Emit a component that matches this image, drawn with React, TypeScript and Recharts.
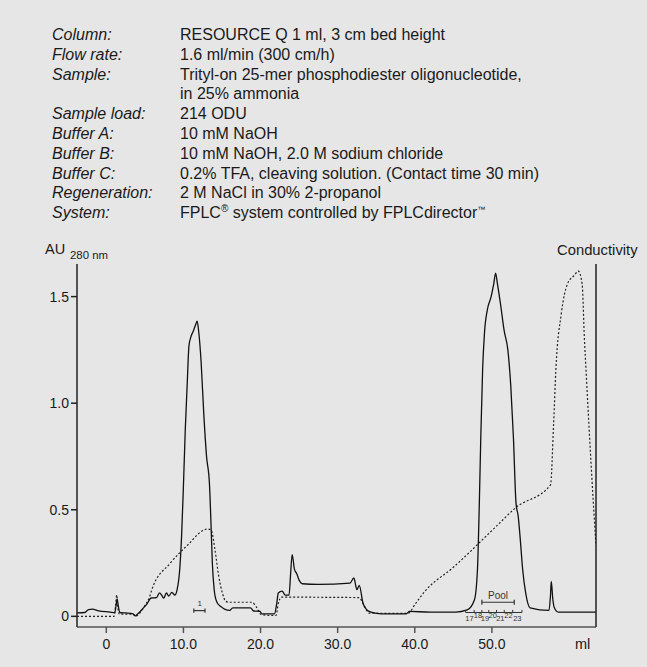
import React from "react";
import { LineChart, Line, XAxis, YAxis, ReferenceLine, ReferenceDot } from "recharts";

// UV trace (A280)
const uvVolume = [-3.8, -2.8, -2.3, -1.8, -1.0, 0.5, 1.1, 1.3, 1.4, 1.55, 1.75, 2.5, 3.4, 3.75, 4.1, 4.7, 5.3, 5.8, 6.5, 6.9, 7.2, 7.45, 7.8, 8.1, 8.5, 8.9, 9.18, 9.52, 9.76, 10.0, 10.24, 10.48, 10.72, 10.96, 11.3, 11.6, 11.78, 11.97, 12.3, 12.64, 13.0, 13.37, 13.6, 13.75, 13.99, 14.3, 14.8, 16.0, 16.4, 18.7, 19.1, 19.9, 20.2, 21.8, 22.1, 22.3, 22.8, 23.2, 23.7, 23.9, 24.1, 24.4, 24.7, 25.0, 25.4, 27.5, 31.6, 32.1, 32.5, 32.8, 33.3, 33.8, 34.3, 35.7, 38.9, 39.3, 42.0, 45.3, 46.8, 47.74, 48.13, 48.37, 48.56, 48.8, 49.04, 49.42, 49.9, 50.24, 50.48, 50.72, 51.1, 51.59, 52.07, 52.45, 52.79, 53.13, 53.41, 53.65, 53.99, 54.38, 54.95, 57.4, 57.6, 57.7, 57.9, 58.1, 58.6, 63.5];
const uvAbs = [0.016, 0.018, 0.032, 0.034, 0.026, 0.02, 0.017, 0.06, 0.082, 0.05, 0.018, 0.016, 0.013, 0.002, 0.012, 0.035, 0.06, 0.086, 0.088, 0.11, 0.098, 0.085, 0.11, 0.095, 0.112, 0.1, 0.125, 0.22, 0.375, 0.61, 0.875, 1.08, 1.27, 1.31, 1.34, 1.37, 1.385, 1.34, 1.19, 0.95, 0.75, 0.625, 0.41, 0.25, 0.125, 0.07, 0.047, 0.028, 0.04, 0.04, 0.025, 0.024, 0.012, 0.012, 0.06, 0.11, 0.118, 0.1, 0.1, 0.2, 0.29, 0.22, 0.2, 0.17, 0.153, 0.15, 0.156, 0.18, 0.125, 0.145, 0.06, 0.03, 0.02, 0.012, 0.012, 0.023, 0.02, 0.02, 0.03, 0.078, 0.22, 0.53, 0.84, 1.16, 1.33, 1.44, 1.5, 1.56, 1.61, 1.56, 1.47, 1.34, 1.25, 1.08, 0.84, 0.53, 0.47, 0.375, 0.22, 0.11, 0.04, 0.028, 0.1, 0.164, 0.08, 0.04, 0.02, 0.02];

// conductivity trace (dotted), drawn on the same scale
const condVolume = [-3.8, 1.0, 1.2, 1.35, 1.5, 1.7, 2.5, 3.5, 3.8, 4.2, 5.0, 5.6, 5.9, 8.3, 10.7, 12.4, 13.1, 13.6, 14.1, 14.57, 15.05, 15.5, 16.0, 18.9, 19.4, 20.1, 21.8, 22.0, 22.3, 22.7, 32.8, 33.3, 34.1, 39.1, 40.1, 41.3, 45.0, 50.5, 53.1, 57.6, 58.0, 58.3, 59.0, 59.8, 60.7, 61.2, 61.7, 62.0, 62.2, 62.9, 63.5];
const condValue = [0, 0, 0.05, 0.1, 0.04, 0.01, 0.01, 0.01, 0.0, 0.01, 0.05, 0.09, 0.125, 0.25, 0.34, 0.4, 0.41, 0.405, 0.31, 0.19, 0.11, 0.07, 0.066, 0.066, 0.047, 0.008, 0.004, 0.004, 0.06, 0.09, 0.088, 0.06, 0.015, 0.014, 0.06, 0.117, 0.23, 0.42, 0.51, 0.617, 0.9, 1.16, 1.42, 1.56, 1.6, 1.62, 1.56, 1.3, 1.16, 0.69, 0.33];

const xTicks = [0, 10, 20, 30, 40, 50];
const yTicks = [0, 0.5, 1.0, 1.5];

// fraction collector marks
const fractionEdges = [46.6, 47.7, 48.7, 49.6, 50.6, 51.6, 52.7, 53.9];
const fractionNumbers = [17, 18, 19, 20, 21, 22, 23];
const fractionLabelAt = [47.1, 48.2, 49.1, 50.1, 51.1, 52.15, 53.3];

const poolRange = [48.7, 52.9];
const fractionOneRange = [11.35, 12.8];

const header = [
  ["Column:", "RESOURCE Q 1 ml, 3 cm bed height"],
  ["Flow rate:", "1.6 ml/min (300 cm/h)"],
  ["Sample:", "Trityl-on 25-mer phosphodiester oligonucleotide,"],
  ["", "in 25% ammonia"],
  ["Sample load:", "214 ODU"],
  ["Buffer A:", "10 mM NaOH"],
  ["Buffer B:", "10 mM NaOH, 2.0 M sodium chloride"],
  ["Buffer C:", "0.2% TFA, cleaving solution. (Contact time 30 min)"],
  ["Regeneration:", "2 M NaCl in 30% 2-propanol"],
];

const uvData = uvVolume.map((v, i) => ({ ml: v, au: uvAbs[i] }));
const condData = condVolume.map((v, i) => ({ ml: v, au: condValue[i] }));

const FONT = "'Liberation Sans', Arial, Helvetica, sans-serif";
const INK = "#1a1a1a";

const TextMark = (text: string, size: number) => (props: any) => (
  <text x={props.cx} y={props.cy} textAnchor="middle" dominantBaseline="central" fontSize={size} fill="#333" fontFamily={FONT}>
    {text}
  </text>
);

export default function App() {
  const barSeg = (a: number, b: number, y: number, cap: number, key: string) => [
    <ReferenceLine key={key + "h"} segment={[{ x: a, y }, { x: b, y }]} stroke="#333" strokeWidth={1.2} />,
    <ReferenceLine key={key + "l"} segment={[{ x: a, y: y - cap }, { x: a, y: y + cap }]} stroke="#333" strokeWidth={1.2} />,
    <ReferenceLine key={key + "r"} segment={[{ x: b, y: y - cap }, { x: b, y: y + cap }]} stroke="#333" strokeWidth={1.2} />,
  ];

  return (
    <div style={{ position: "absolute", left: 0, top: 0, width: 647, height: 667, background: "#e6e6e6", fontFamily: FONT, color: INK }}>
      <div style={{ position: "absolute", left: 52, top: 25, fontSize: 16, lineHeight: "19.8px" }}>
        {header.map(([k, v], i) => (
          <div key={i} style={{ display: "flex" }}>
            <span style={{ width: 128, fontStyle: "italic" }}>{k}</span>
            <span>{v}</span>
          </div>
        ))}
        <div style={{ display: "flex" }}>
          <span style={{ width: 128, fontStyle: "italic" }}>System:</span>
          <span>
            FPLC<sup style={{ fontSize: 10, lineHeight: 0 }}>®</sup> system controlled by FPLCdirector
            <sup style={{ fontSize: 8, lineHeight: 0 }}>™</sup>
          </span>
        </div>
      </div>

      <div style={{ position: "absolute", left: 45, top: 241, fontSize: 14.5 }}>AU</div>
      <div style={{ position: "absolute", left: 70, top: 249, fontSize: 11.4 }}>280 nm</div>
      <div style={{ position: "absolute", left: 557, top: 242, fontSize: 14.8 }}>Conductivity</div>
      <div style={{ position: "absolute", left: 575, top: 636, fontSize: 14.5 }}>ml</div>

      <div style={{ position: "absolute", left: 0, top: 0 }}>
        <LineChart width={647} height={667} margin={{ top: 264, right: 50, bottom: 10, left: 37 }}>
          <XAxis
            type="number"
            dataKey="ml"
            domain={[-3.8, 63.5]}
            ticks={xTicks}
            allowDataOverflow
            tickFormatter={(v: number) => (v === 0 ? "0" : v.toFixed(1))}
            tick={{ fill: INK, fontSize: 14, fontFamily: FONT }}
            tickSize={6}
            tickMargin={6}
            height={30}
            stroke="#555"
            strokeWidth={1.5}
          />
          <YAxis
            type="number"
            domain={[-0.05, 1.653]}
            ticks={yTicks}
            allowDataOverflow
            tickFormatter={(v: number) => (v === 0 ? "0" : v.toFixed(1))}
            tick={{ fill: INK, fontSize: 14, fontFamily: FONT }}
            tickSize={6}
            width={40}
            stroke="#222"
            strokeWidth={1.5}
          />
          <YAxis yAxisId="right" orientation="right" domain={[0, 1]} tick={false} width={1} stroke="#222" strokeWidth={1.5} />

          <Line data={condData} dataKey="au" type="monotone" stroke="#222" strokeWidth={1.2} strokeDasharray="2 2" dot={false} isAnimationActive={false} />
          <Line data={uvData} dataKey="au" type="monotone" stroke="#111" strokeWidth={1.3} dot={false} isAnimationActive={false} />

          {barSeg(fractionOneRange[0], fractionOneRange[1], 0.027, 0.01, "f1")}
          <ReferenceDot x={12.1} y={0.058} r={0} shape={TextMark("1", 8)} />

          {barSeg(poolRange[0], poolRange[1], 0.066, 0.012, "pool")}
          <ReferenceDot x={50.8} y={0.099} r={0} shape={TextMark("Pool", 10)} />

          <ReferenceLine segment={[{ x: fractionEdges[0], y: 0.018 }, { x: fractionEdges[fractionEdges.length - 1], y: 0.018 }]} stroke="#333" strokeWidth={1} />
          {fractionEdges.map((e, i) => (
            <ReferenceLine key={"fe" + i} segment={[{ x: e, y: 0.018 }, { x: e, y: 0.03 }]} stroke="#333" strokeWidth={1} />
          ))}
          {fractionNumbers.map((n, i) => (
            <ReferenceDot key={"fn" + n} x={fractionLabelAt[i]} y={i % 2 === 0 ? -0.008 : 0.006} r={0} shape={TextMark(String(n), 7.5)} />
          ))}
        </LineChart>
      </div>
    </div>
  );
}
